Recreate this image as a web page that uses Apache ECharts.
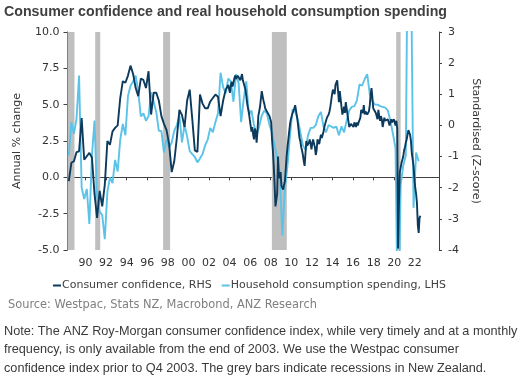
<!DOCTYPE html>
<html>
<head>
<meta charset="utf-8">
<script src="https://cdn.jsdelivr.net/npm/echarts@6/dist/echarts.min.js"></script>
<style>
html,body{margin:0;padding:0;background:#fff;}
#chart{width:528px;height:381px;}
</style>
</head>
<body>
<div id="chart"></div>
<script>
// Household consumption spending, annual % change (LHS), quarterly from Q2 1988
var consumptionStart = 1988.375;
var consumption = [
  1.5, 3.8, 3.0,
  4.0, 7.0, -0.7, -1.5,
  -0.8, -3.2, 1.5, 3.9,
  -1.3, -2.35, -2.6, -4.25,
  -1.0, 0.0, -0.4, 1.2,
  0.4, 2.6, 3.67, 2.9,
  5.6, 6.3, 6.6, 7.0,
  5.9, 4.2, 4.4, 3.9,
  4.2, 5.85, 5.2, 4.5,
  3.2, 3.2, 1.7, 2.6,
  2.05, 2.4, 3.2, 3.6,
  4.24, 2.4, 3.6, 2.8,
  1.8, 1.6, 1.4, 1.03,
  1.3, 1.6, 2.2, 2.6,
  3.4, 3.1, 3.8, 4.4,
  7.2, 6.2, 5.8, 6.8,
  6.6, 5.2, 7.1, 6.5,
  3.8, 5.4, 6.6, 4.3,
  4.6, 3.6, 2.9, 3.5,
  4.25, 4.6, 4.4, 3.6,
  3.1, 2.2, 1.3, 0.34,
  -4.0, -0.8, 0.8, 2.9,
  4.7, 4.5, 4.0, 3.1,
  2.2, 1.9, 2.9, 3.4,
  3.4, 3.6, 4.2, 4.5,
  3.5, 3.1, 3.6, 3.5,
  3.4, 3.5, 2.9, 3.5,
  3.1, 3.9, 4.6, 4.85,
  4.9, 5.3, 6.4, 6.3,
  6.75, 7.1, 5.7, 5.25,
  5.0, 5.0, 4.9, 4.85,
  4.8, 4.6, 3.9, 3.0,
  2.0, -12.0, -0.5, 0.8,
  1.5, 22.0, 15.0, -2.1,
  1.7, 1.1
];
// Consumer confidence, Z-score (RHS): Westpac quarterly to Q3 2003, ANZ Roy-Morgan monthly from Nov 2003
var confidenceQStart = 1988.375;
var confidenceQ = [
  -1.79, -1.2, -1.15,
  -0.86, -0.83, 0.24, -1.1,
  -0.99, -0.88, -1.03, -2.2,
  -2.97, -2.1, -2.6, -1.9,
  -0.5, -0.62, -0.19, -0.08,
  0.0, 0.88, 1.42, 1.37,
  1.6, 1.92, 1.65, 1.2,
  0.94, 1.5, 1.46, 1.2,
  1.74, 0.35, 1.05, 1.05,
  0.8, 0.3, 0.05, -0.15,
  -0.6, -1.5, -1.15, -0.4,
  0.5, 0.33, -0.05, 0.8,
  1.15, 0.2, -0.8, -0.85,
  0.99, 0.7, 0.55, 0.55,
  0.77, 0.88, 0.99, 0.92,
  0.3, 0.8, 1.15
];
var confidenceMStart = 2003.875;
var confidenceM = [
  1.3, 1.15, 1.05, 1.3, 1.4, 1.25, 1.2, 1.5, 1.6, 1.5, 1.5, 1.6,
  1.65, 1.55, 1.45, 1.55, 1.65, 1.45, 1.4, 1.45, 1.15, 0.95, 0.7, 0.55,
  0.42, 0.2, 0.0, -0.2, -0.05, -0.3, -0.45, -0.1, -0.2, -0.55, -0.2, 0.3,
  0.45, 0.6, 0.85, 1.1, 0.95, 0.8, 0.7, 0.55, 0.6, 0.45, 0.5, 0.45,
  0.3, 0.35, 0.1, -0.45, -0.8, -1.3, -1.9, -2.6, -2.65, -2.2, -1.0, -1.7,
  -1.6, -1.5, -1.95, -1.9, -2.06, -1.9, -1.8, -1.4, -1.0, -0.7, -0.45, -0.2,
  0.05, 0.2, 0.3, 0.4, 0.45, 0.55, 0.65, 0.7, 0.3, 0.1, -0.15, -0.4,
  -0.5, -0.7, -0.8, -0.95, -1.15, -1.3, -0.9, -0.5, -0.65, -0.7, -0.55, -0.45,
  -0.6, -0.77, -0.55, -0.45, -0.6, -0.7, -0.95, -0.8, -0.45, -0.5, -0.6, -0.45,
  -0.3, -0.4, -0.4, -0.2, -0.05, 0.05, 0.15, 0.25, 0.3, 0.35, 0.45, 0.6,
  0.8, 1.0, 1.15, 1.1, 1.0, 1.3, 1.3, 1.45, 1.5, 0.75, 1.1, 0.85,
  0.6, 0.35, 0.45, 0.6, 0.4, 0.75, 0.8, 0.35, 0.15, -0.05, -0.1, 0.05,
  0.1, 0.0, -0.05, 0.1, 0.05, -0.05, 0.1, 0.0, 0.1, 0.05, 0.25, 0.5,
  0.45, 0.4, 0.65, 0.35, 0.45, 0.5, 0.35, 0.3, 0.45, 0.65, 1.0, 1.2,
  0.9, 0.55, 0.5, 0.6, 0.4, 0.3, 0.2, 0.5, 0.3, 0.15, 0.3, 0.2,
  -0.05, 0.1, 0.25, 0.15, 0.1, 0.15, 0.2, 0.1, 0.0, 0.1, 0.2, 0.1,
  0.05, 0.2, 0.2, 0.0, 0.15, -0.1, -3.95, -2.5, -1.5, -1.35, -1.2, -1.1,
  -1.0, -0.8, -0.7, -0.55, -0.45, -0.3, -0.15, -0.1, -0.3, -0.5, -0.9, -1.1,
  -1.3, -1.7, -2.0, -2.2, -2.5, -3.2, -3.45, -2.97, -2.9
];
// NZ recessions (start, end) in decimal years
var recessions = [
  [1988.25, 1988.93],
  [1990.94, 1991.43],
  [1997.54, 1998.22],
  [2008.11, 2009.56],
  [2020.19, 2020.62]
];
var xTickValues = [1990,1992,1994,1996,1998,2000,2002,2004,2006,2008,2010,2012,2014,2016,2018,2020,2022];
var xTickLabels = ['90','92','94','96','98','00','02','04','06','08','10','12','14','16','18','20','22'];

var consData = consumption.map(function(v, i){ return [consumptionStart + i * 0.25, v]; });
var confData = confidenceQ.map(function(v, i){ return [confidenceQStart + i * 0.25, v]; })
  .concat(confidenceM.map(function(v, i){ return [confidenceMStart + i / 12, v]; }));

var axisColor = '#404040';
var labelFont = { fontFamily: 'DejaVu Sans', fontSize: 11, color: '#333333' };

var chart = echarts.init(document.getElementById('chart'), null, { renderer: 'canvas' });
chart.setOption({
  animation: false,
  backgroundColor: '#ffffff',
  title: {
    text: 'Consumer confidence and real household consumption spending',
    left: 4, top: 5, padding: 0,
    textStyle: { fontFamily: 'Liberation Sans', fontWeight: 'bold', fontSize: 14.2, color: '#404040' }
  },
  grid: { left: 67.5, right: 89, top: 32, bottom: 131, containLabel: false, outerBoundsMode: 'none' },
  legend: {
    data: ['Consumer confidence, RHS', 'Household consumption spending, LHS'],
    left: 53, top: 280, padding: 0,
    icon: 'rect', itemWidth: 8, itemHeight: 2, itemGap: 10,
    textStyle: { fontFamily: 'DejaVu Sans', fontSize: 11, color: '#404040', padding: [0, 0, 0, -4] }
  },
  xAxis: {
    type: 'value', min: 1988.25, max: 2024.35,
    axisLine: { show: true, lineStyle: { color: axisColor, width: 1 } },
    axisTick: { show: true, length: 3, customValues: xTickValues, lineStyle: { color: axisColor } },
    axisLabel: Object.assign({
      margin: 8, customValues: xTickValues,
      formatter: function(v){ var i = xTickValues.indexOf(Math.round(v)); return i >= 0 ? xTickLabels[i] : ''; }
    }, labelFont),
    splitLine: { show: false }
  },
  yAxis: [
    {
      type: 'value', min: -5, max: 10, interval: 2.5, position: 'left',
      name: 'Annual % change', nameLocation: 'middle', nameGap: 45, nameRotate: 90,
      nameTextStyle: { fontFamily: 'DejaVu Sans', fontSize: 11, color: '#333333' },
      axisLine: { show: true, lineStyle: { color: axisColor, width: 1 } },
      axisTick: { show: true, length: 4, lineStyle: { color: axisColor } },
      axisLabel: Object.assign({ margin: 8, formatter: function(v){ return v.toFixed(1); } }, labelFont),
      splitLine: { show: false }
    },
    {
      type: 'value', min: -4, max: 3, interval: 1, position: 'right',
      name: 'Standardised (Z-score)', nameLocation: 'middle', nameGap: 31, nameRotate: -90,
      nameTextStyle: { fontFamily: 'DejaVu Sans', fontSize: 11, color: '#333333' },
      axisLine: { show: true, lineStyle: { color: axisColor, width: 1 } },
      axisTick: { show: true, length: 3, lineStyle: { color: axisColor } },
      axisLabel: Object.assign({ margin: 9 }, labelFont),
      splitLine: { show: false }
    }
  ],
  series: [
    {
      name: 'recessions', type: 'line', data: [], z: 1, silent: true,
      markArea: {
        silent: true,
        itemStyle: { color: '#BFBFBF', opacity: 1 },
        data: recessions.map(function(r){ return [{ xAxis: r[0] }, { xAxis: r[1] }]; })
      }
    },
    {
      name: 'Household consumption spending, LHS', type: 'line', yAxisIndex: 0,
      data: consData, showSymbol: false, symbol: 'none', z: 3, clip: true,
      lineStyle: { color: '#5BC3E8', width: 1.9 }, itemStyle: { color: '#5BC3E8' }
    },
    {
      name: 'Consumer confidence, RHS', type: 'line', yAxisIndex: 1,
      data: confData, showSymbol: false, symbol: 'none', z: 4, clip: true,
      lineStyle: { color: '#0B3A5C', width: 1.9 }, itemStyle: { color: '#0B3A5C' }
    }
  ],
  graphic: [
    {
      type: 'text', left: 8, top: 300,
      style: { text: 'Source: Westpac, Stats NZ, Macrobond, ANZ Research', fontFamily: 'DejaVu Sans', fontSize: 11.4, fill: '#808080' }
    },
    {
      type: 'text', left: 4, top: 322,
      style: {
        text: 'Note: The ANZ Roy-Morgan consumer confidence index, while very timely and at a monthly\nfrequency, is only available from the end of 2003. We use the Westpac consumer\nconfidence index prior to Q4 2003. The grey bars indicate recessions in New Zealand.',
        fontFamily: 'Liberation Sans', fontSize: 12.7, lineHeight: 18.5, fill: '#3A3A3A'
      }
    }
  ]
});
</script>
</body>
</html>
